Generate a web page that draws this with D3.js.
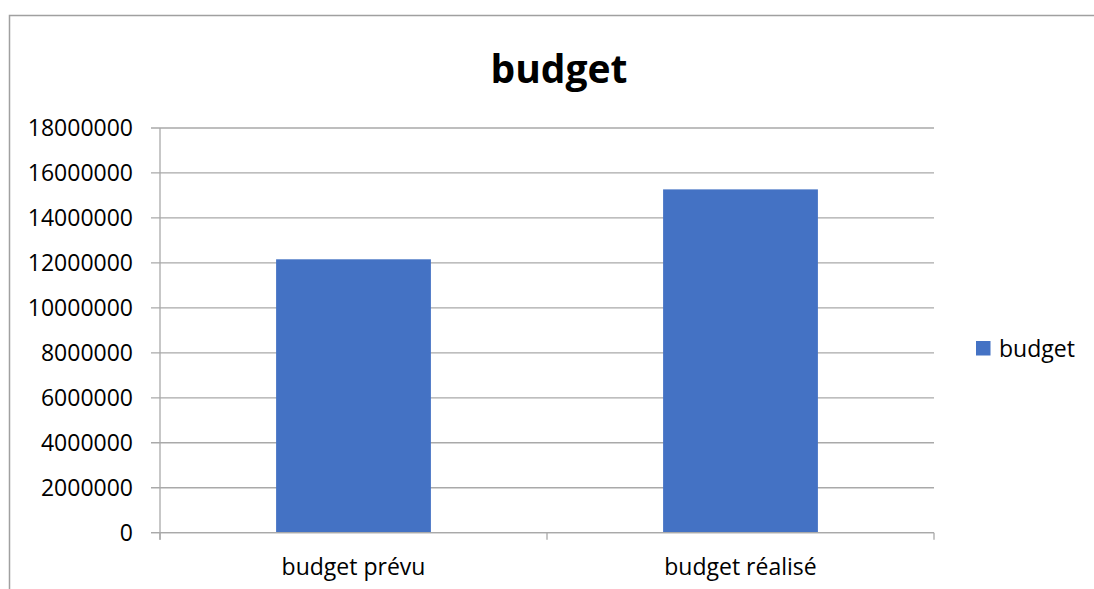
<!DOCTYPE html>
<html>
<head>
<meta charset="utf-8">
<script src="https://cdn.jsdelivr.net/npm/d3@7.9.0/dist/d3.min.js"></script>
<style>
  html, body { margin: 0; padding: 0; background: #fff; }
  svg { display: block; font-family: "Open Sans", sans-serif; }
</style>
</head>
<body>
<svg id="chart" width="1094" height="589"></svg>
<script>
// chart data
const categories = ['budget prévu', 'budget réalisé'];
const budgetValues = [12160000, 15270000];
const yTicks = [0, 2000000, 4000000, 6000000, 8000000, 10000000, 12000000, 14000000, 16000000, 18000000];
const seriesName = 'budget';
const chartTitle = 'budget';

const svg = d3.select('#chart');
const grey = '#a9a9a9';
const barColor = '#4472c4';
const labelSize = '23px';

// outer frame (only top and left edges visible)
svg.append('path')
  .attr('d', 'M9.5,589 V15.5 H1094')
  .attr('fill', 'none')
  .attr('stroke', '#a0a0a0')
  .attr('stroke-width', 1.5);

// plot area
const plot = { left: 160, right: 934, top: 128, bottom: 532.7 };

const y = d3.scaleLinear()
  .domain([0, 18000000])
  .range([plot.bottom, plot.top]);

// Excel gap width 150% -> inner 0.6, outer 0.3
const x = d3.scaleBand()
  .domain(categories)
  .range([plot.left, plot.right])
  .paddingInner(0.6)
  .paddingOuter(0.3);

// horizontal gridlines + left tick marks
svg.append('g')
  .selectAll('line')
  .data(yTicks)
  .join('line')
  .attr('x1', plot.left - 9)
  .attr('x2', plot.right)
  .attr('y1', (d) => y(d))
  .attr('y2', (d) => y(d))
  .attr('stroke', grey)
  .attr('stroke-width', 1.3);

// y tick labels
svg.append('g')
  .selectAll('text')
  .data(yTicks)
  .join('text')
  .attr('x', 133)
  .attr('y', (d) => y(d))
  .attr('dy', '0.35em')
  .attr('text-anchor', 'end')
  .attr('font-size', labelSize)
  .attr('fill', '#000')
  .text((d) => d3.format('d')(d));

// bars
svg.append('g')
  .selectAll('rect')
  .data(budgetValues)
  .join('rect')
  .attr('x', (d, i) => x(categories[i]))
  .attr('width', x.bandwidth())
  .attr('y', (d) => y(d))
  .attr('height', (d) => y(0) - y(d))
  .attr('fill', barColor);

// vertical axis line
svg.append('line')
  .attr('x1', plot.left).attr('x2', plot.left)
  .attr('y1', plot.top).attr('y2', plot.bottom + 7)
  .attr('stroke', grey)
  .attr('stroke-width', 1.3);

// category boundary ticks
const boundaries = d3.range(categories.length + 1).map((i) => plot.left + i * (plot.right - plot.left) / categories.length);
svg.append('g')
  .selectAll('line')
  .data(boundaries)
  .join('line')
  .attr('x1', (d) => d).attr('x2', (d) => d)
  .attr('y1', plot.bottom).attr('y2', plot.bottom + 7)
  .attr('stroke', grey)
  .attr('stroke-width', 1.3);

// x axis baseline (drawn on top of bars)
svg.append('line')
  .attr('x1', plot.left - 9).attr('x2', plot.right)
  .attr('y1', y(0)).attr('y2', y(0))
  .attr('stroke', grey)
  .attr('stroke-width', 1.3);

// category labels
svg.append('g')
  .selectAll('text')
  .data(categories)
  .join('text')
  .attr('x', (d) => x(d) + x.bandwidth() / 2)
  .attr('y', 575)
  .attr('text-anchor', 'middle')
  .attr('font-size', labelSize)
  .attr('fill', '#000')
  .text((d) => d);

// title
svg.append('text')
  .attr('x', 559)
  .attr('y', 83)
  .attr('text-anchor', 'middle')
  .attr('font-size', '39px')
  .attr('font-weight', 'bold')
  .attr('fill', '#000')
  .text(chartTitle);

// legend
const legend = svg.append('g').attr('transform', 'translate(976,341)');
legend.append('rect')
  .attr('width', 14.5)
  .attr('height', 14.5)
  .attr('fill', barColor);
legend.append('text')
  .attr('x', 23)
  .attr('y', 7.5)
  .attr('dy', '0.35em')
  .attr('font-size', labelSize)
  .attr('fill', '#000')
  .text(seriesName);
</script>
</body>
</html>
